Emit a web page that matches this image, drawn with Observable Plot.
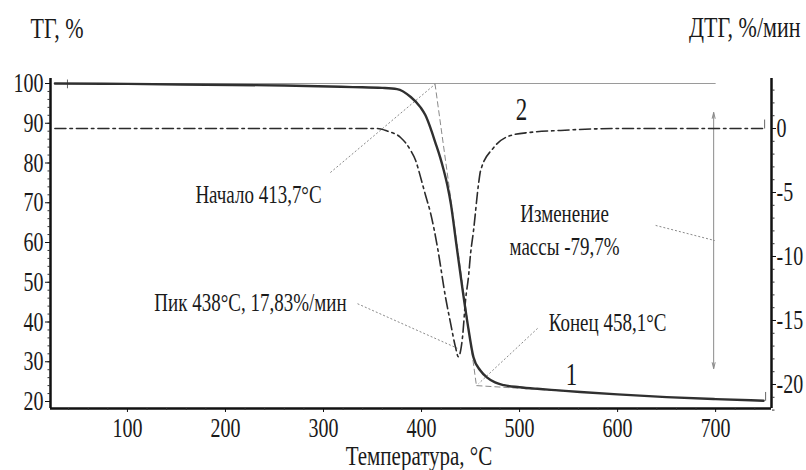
<!DOCTYPE html>
<html>
<head>
<meta charset="utf-8">
<script src="https://cdn.jsdelivr.net/npm/d3@7"></script>
<script src="https://cdn.jsdelivr.net/npm/@observablehq/plot@0.6"></script>
<style>
  html, body { margin: 0; padding: 0; background: #fff; }
  #chart { width: 806px; height: 470px; }
</style>
</head>
<body>
<div id="chart"></div>
<script>
// ---- Data ----
// TG curve (1): temperature, °C -> mass, %
const tgTemp = [26, 100, 180, 260, 330, 360, 375, 389, 399, 404, 409, 414, 419, 422.5, 426.5, 430, 435, 442, 447, 453, 460, 467, 475, 484, 500, 518, 540, 562, 600, 650, 700, 749];
const tgMass = [100, 99.9, 99.7, 99.5, 99.1, 98.9, 98.6, 96.6, 94.0, 92.0, 88.9, 85.2, 81.4, 78.3, 74.2, 69.6, 60.5, 47.9, 39.6, 31.1, 27.8, 26.0, 24.8, 24.1, 23.6, 23.2, 22.8, 22.4, 21.8, 21.1, 20.6, 20.2];

// DTG curve (2): temperature, °C -> rate, %/min
const dtgTemp = [26, 100, 200, 300, 355, 365, 378.6, 388.8, 394, 399, 404, 409.2, 416.3, 424.5, 429.6, 434.7, 437.5, 441.8, 444.9, 448, 450, 453, 458.2, 460.2, 473.5, 490.8, 511, 542, 600, 650, 700, 749];
const dtgRate = [0, 0, 0, 0, 0, -0.2, -0.7, -1.7, -2.5, -3.8, -5.2, -6.6, -9.3, -13.2, -15.2, -17.1, -17.83, -16.3, -13.4, -11.5, -9.8, -8.0, -4.3, -3.3, -1.5, -0.55, -0.3, -0.15, 0, 0, 0, 0];

// Ticks
const xTicks = [100, 200, 300, 400, 500, 600, 700];
const xMinorTicks = d3.range(40, 757, 20);
const yLeftTicks = [20, 30, 40, 50, 60, 70, 80, 90, 100];
const yLeftMinorTicks = d3.range(20, 101, 2);
const yRightTicks = [0, -5, -10, -15, -20];
const yRightMinorTicks = d3.range(-22, 4, 1);

// Texts
const titleLeft = "ТГ, %";
const titleRight = "ДТГ, %/мин";
const xTitle = "Температура, °C";
const onsetTemp = 413.7, endTemp = 458.1, peakTemp = 438, peakRate = 17.83, massChange = -79.7;

// Scale set-up (shared y scale: DTG is mapped onto the TG scale)
const X_DOMAIN = [21.5, 757];
const Y_DOMAIN = [18.24, 101.26];
const dtgToTg = d => 88.68 + 3.22 * d;

const tg = tgTemp.map((t, i) => ({t, v: tgMass[i]}));
const dtg = dtgTemp.map((t, i) => ({t, v: dtgToTg(dtgRate[i])}));

// Construction lines (in data units)
const greyLines = [
  {x1: 26.5, y1: 100, x2: 700, y2: 100, dash: null},                  // 100 % baseline
  {x1: onsetTemp, y1: 100, x2: 456, y2: 24, dash: "6,3"},             // tangent
  {x1: 456, y1: 24, x2: 560, y2: 22.4, dash: "6,3"}                   // end baseline
];
const leaders = [
  {x1: 307, y1: 77.6, x2: onsetTemp, y2: 99.8},
  {x1: 334.7, y1: 44.6, x2: 436.5, y2: 33.4},
  {x1: 518.4, y1: 38.4, x2: 458.2, y2: 24.5},
  {x1: 638.8, y1: 64.3, x2: 699, y2: 60.5}
];
const arrows = [
  {x1: 698, y1: 60.5, x2: 698, y2: 92.7},
  {x1: 698, y1: 60.5, x2: 698, y2: 28.3}
];
const smallTicks = [
  {x1: 38.8, y1: 98.8, x2: 38.8, y2: 101},
  {x1: 750, y1: dtgToTg(0), x2: 750, y2: dtgToTg(0.7)},
  {x1: 751, y1: 20.2, x2: 751, y2: 22.4}
];

const fmt = v => String(v).replace(".", ",");
const annotations = [
  {x: 233.7, y: 72.6, text: `Начало ${fmt(onsetTemp)}°C`},
  {x: 225.5, y: 45.4, text: `Пик ${peakTemp}°C, ${fmt(peakRate)}%/мин`},
  {x: 589.8, y: 40.4, text: `Конец ${fmt(endTemp)}°C`},
  {x: 545.9, y: 63.7, text: `Изменение\nмассы ${fmt(massChange)}%`}
];
const curveLabels = [
  {x: 502, y: 93.2, text: "2"},
  {x: 553, y: 26.5, text: "1"}
];

const FONT = "'Liberation Serif', 'Times New Roman', serif";
const INK = "#1a1a1a";

const plot = Plot.plot({
  width: 806,
  height: 470,
  marginLeft: 50,
  marginRight: 35,
  marginTop: 78,
  marginBottom: 62,
  style: {fontFamily: FONT, background: "#fff", color: INK},
  x: {domain: X_DOMAIN},
  y: {domain: Y_DOMAIN},
  marks: [
    // construction lines
    Plot.link(greyLines.filter(d => !d.dash), {x1: "x1", y1: "y1", x2: "x2", y2: "y2", stroke: "#9a9a9a", strokeWidth: 1.2}),
    Plot.link(greyLines.filter(d => d.dash), {x1: "x1", y1: "y1", x2: "x2", y2: "y2", stroke: "#8a8a8a", strokeWidth: 1, strokeDasharray: "6,3"}),
    Plot.link(leaders, {x1: "x1", y1: "y1", x2: "x2", y2: "y2", stroke: "#8a8a8a", strokeWidth: 1, strokeDasharray: "2,2"}),
    Plot.arrow(arrows, {x1: "x1", y1: "y1", x2: "x2", y2: "y2", stroke: "#8a8a8a", strokeWidth: 1, headLength: 9, headAngle: 28}),
    Plot.link(smallTicks, {x1: "x1", y1: "y1", x2: "x2", y2: "y2", stroke: "#666", strokeWidth: 1}),
    // curves
    Plot.line(dtg, {x: "t", y: "v", curve: "monotone-x", stroke: "#2b2b2b", strokeWidth: 1.6, strokeDasharray: "11,4,2.5,4"}),
    Plot.line(tg, {x: "t", y: "v", curve: "monotone-x", stroke: "#303030", strokeWidth: 2.4}),
    // axes lines
    Plot.ruleX([X_DOMAIN[0]], {stroke: "#111", strokeWidth: 2.5}),
    Plot.ruleX([X_DOMAIN[1]], {stroke: "#111", strokeWidth: 2.5}),
    Plot.ruleY([Y_DOMAIN[0]], {stroke: "#111", strokeWidth: 2.5}),
    // x axis
    Plot.axisX(xMinorTicks, {anchor: "bottom", tickSize: 2, tickFormat: () => "", label: null, stroke: "#333"}),
    Plot.axisX(xTicks, {anchor: "bottom", tickSize: 4, tickPadding: 6, fontSize: 20, label: null, stroke: "#111", fill: INK}),
    // left axis
    Plot.axisY(yLeftMinorTicks, {anchor: "left", tickSize: 2.5, tickFormat: () => "", label: null, stroke: "#333"}),
    Plot.axisY(yLeftTicks, {anchor: "left", tickSize: 5, tickPadding: 2, fontSize: 20, label: null, stroke: "#111", fill: INK}),
    // right axis (DTG)
    Plot.axisY(yRightMinorTicks.map(dtgToTg), {anchor: "right", tickSize: 2.5, tickFormat: () => "", label: null, stroke: "#333"}),
    Plot.axisY(yRightTicks.map(dtgToTg), {anchor: "right", tickSize: 4, tickPadding: 1, fontSize: 20, label: null, stroke: "#111", fill: INK,
      tickFormat: (d, i) => String(yRightTicks[i])}),
    // annotations
    Plot.text(annotations, {x: "x", y: "y", text: "text", fontSize: 19, fill: INK, lineHeight: 1.32}),
    Plot.text(curveLabels, {x: "x", y: "y", text: "text", fontSize: 23, fill: INK}),
    // titles
    Plot.text([titleLeft], {text: d => d, frameAnchor: "top-left", textAnchor: "start", lineAnchor: "middle", dx: -20, dy: -50, fontSize: 22, fill: INK}),
    Plot.text([titleRight], {text: d => d, frameAnchor: "top-right", textAnchor: "end", lineAnchor: "middle", dx: 29, dy: -51, fontSize: 22, fill: INK}),
    Plot.text([xTitle], {text: d => d, frameAnchor: "bottom", lineAnchor: "middle", dx: 8, dy: 48, fontSize: 21, fill: INK})
  ]
});

// The reference's lettering is vertically stretched; stretch each text about its anchor.
plot.querySelectorAll("text").forEach(t => {
  const tr = t.getAttribute("transform");
  if (tr && tr.includes("translate")) t.setAttribute("transform", tr + " scale(1,1.33)");
});

document.getElementById("chart").appendChild(plot);
</script>
</body>
</html>
